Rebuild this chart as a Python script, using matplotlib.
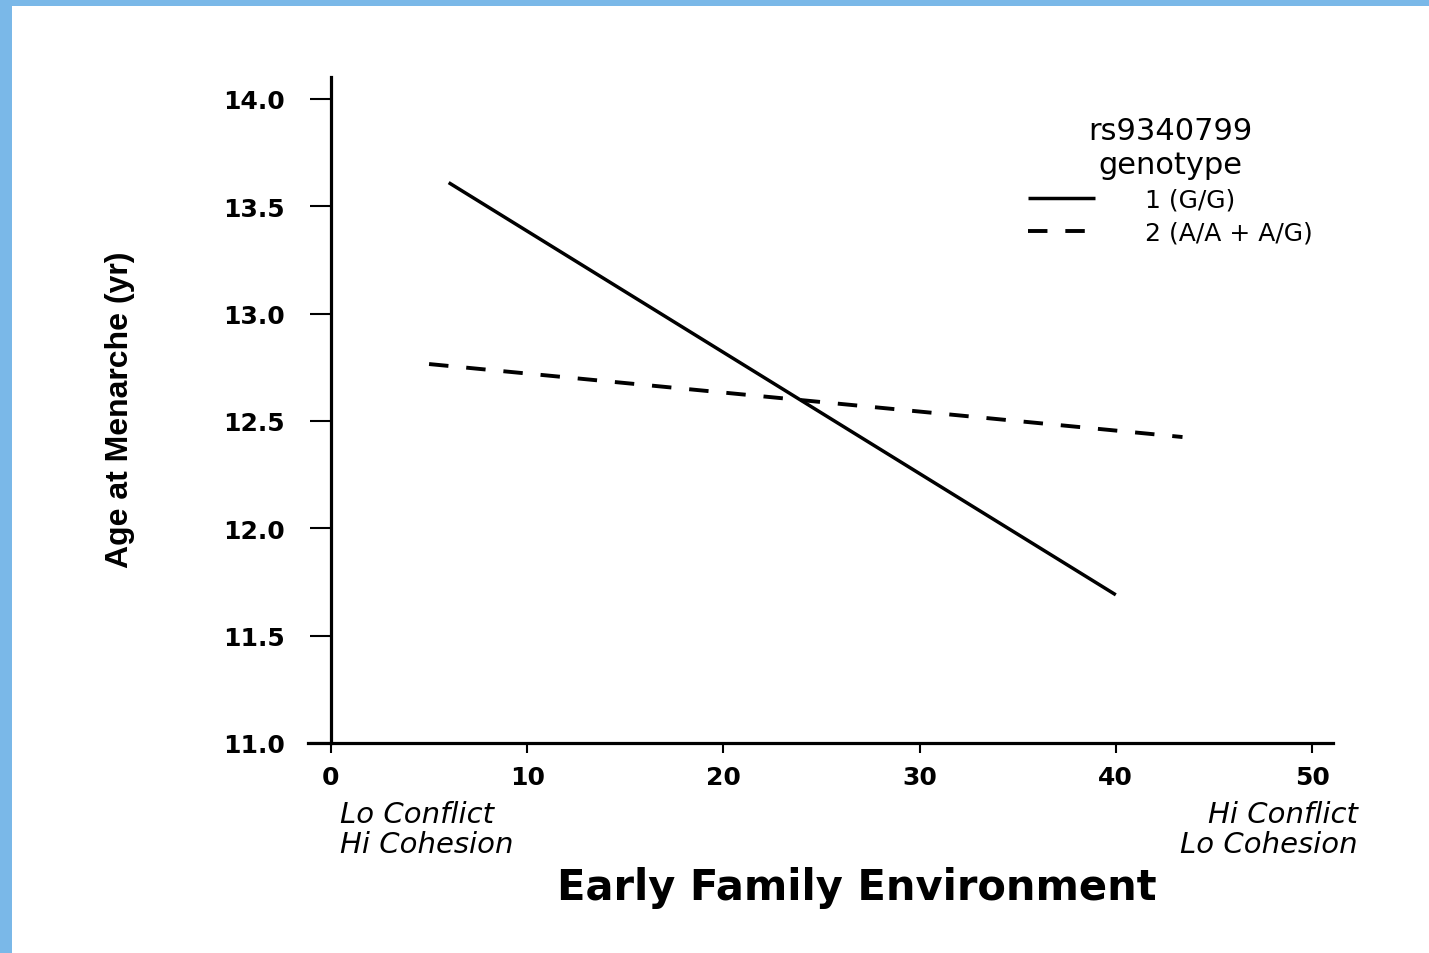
import matplotlib
matplotlib.use("Agg")
import matplotlib.pyplot as plt
from matplotlib.patches import Rectangle

# fitted lines (end points of each genotype line)
gg_x = [6, 40]
gg_y = [13.61, 11.69]
aa_x = [5, 43.4]
aa_y = [12.765, 12.425]

x_ticks = [0, 10, 20, 30, 40, 50]
y_ticks = [11.0, 11.5, 12.0, 12.5, 13.0, 13.5, 14.0]

legend_title = "rs9340799\ngenotype"
legend_labels = ["1 (G/G)", "2 (A/A + A/G)"]

W, H = 1429, 954
fig = plt.figure(figsize=(W / 100, H / 100), dpi=100)
fig.patch.set_facecolor("#7AB8E8")
fig.patches.append(Rectangle((12 / W, 0), 1, 1 - 7 / H, transform=fig.transFigure,
                             facecolor="white", edgecolor="none", zorder=-10))

ax = fig.add_axes([308 / W, 1 - 744 / H, 1025 / W, 665.6 / H])
ax.set_facecolor("none")

solid, = ax.plot(gg_x, gg_y, color="black", lw=2.5, solid_capstyle="butt")
dashed, = ax.plot(aa_x, aa_y, color="black", lw=2.8, dashes=(5.0, 4.6))

ax.set_xlim(-1.17, 51.07)
ax.set_ylim(11.0, 14.1)

ax.spines[["top", "right"]].set_visible(False)
ax.spines["left"].set_position(("data", 0))
ax.spines["left"].set_linewidth(2.3)
ax.spines["bottom"].set_linewidth(2.3)

ax.set_xticks(x_ticks)
ax.set_yticks(y_ticks)
ax.set_yticklabels([f"{v:.1f}" for v in y_ticks])
ax.tick_params(axis="y", direction="out", length=15, width=1.5, pad=18)
ax.tick_params(axis="x", direction="out", length=7, width=1.5, pad=9)
for lab in ax.get_xticklabels() + ax.get_yticklabels():
    lab.set_fontsize(18)
    lab.set_fontweight("bold")
    lab.set_family("DejaVu Sans")

fig.text(120 / W, 1 - 410 / H, "Age at Menarche (yr)", rotation=90,
         ha="center", va="center", fontsize=23, fontweight="bold",
         family="Liberation Sans")

fig.text(857 / W, 1 - 888 / H, "Early Family Environment", ha="center", va="center",
         fontsize=30, fontweight="bold", family="DejaVu Sans")

fig.text(340 / W, 1 - 830 / H, "Lo Conflict\nHi Cohesion", ha="left", va="center",
         fontsize=21, style="italic", family="DejaVu Sans", linespacing=1.1)
fig.text(1358 / W, 1 - 830 / H, "Hi Conflict\nLo Cohesion", ha="right", va="center",
         fontsize=21, style="italic", family="DejaVu Sans", linespacing=1.1,
         multialignment="right")

leg = ax.legend([solid, dashed], legend_labels, title=legend_title, frameon=False,
                loc="upper left", bbox_to_anchor=(1005 / W, 1 - 95 / H),
                bbox_transform=fig.transFigure, fontsize=18, title_fontsize=22,
                handlelength=2.7, handletextpad=2.0, labelspacing=0.35)
leg.get_title().set_multialignment("center")

fig.savefig("out.png", dpi=100, facecolor=fig.get_facecolor())
